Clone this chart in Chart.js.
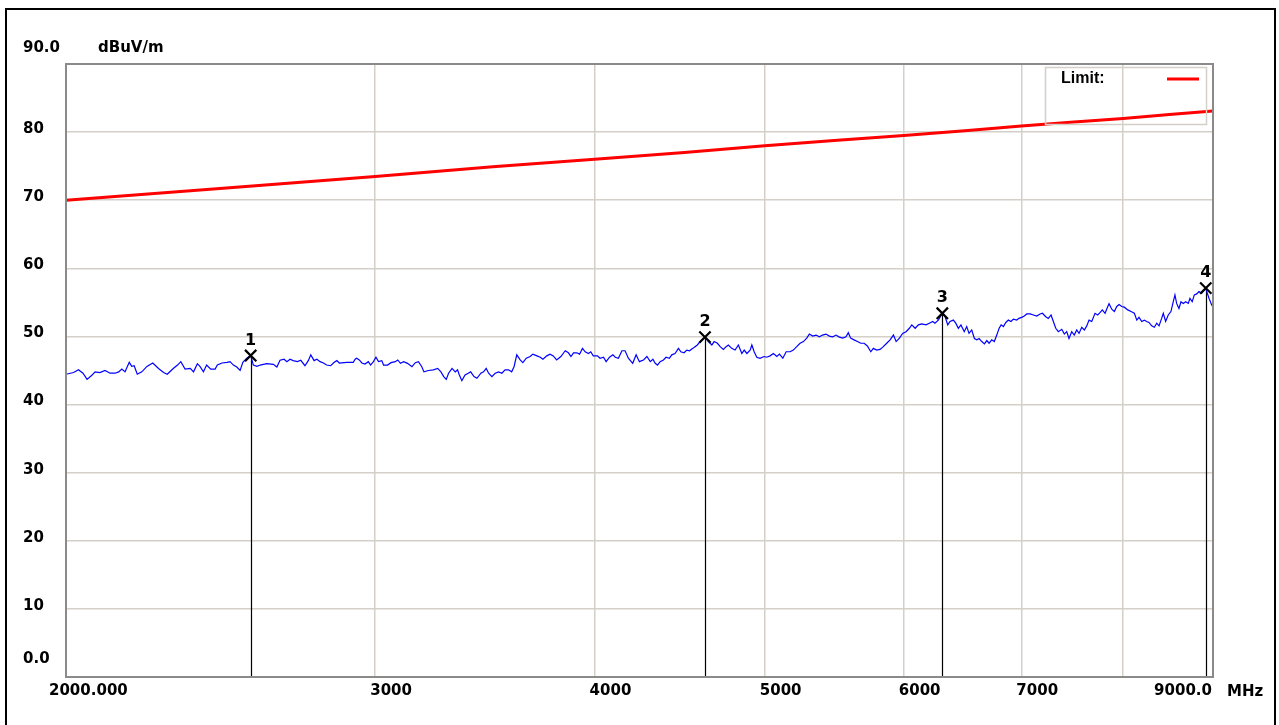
<!DOCTYPE html>
<html>
<head>
<meta charset="utf-8">
<script src="https://cdn.jsdelivr.net/npm/chart.js@4.4.0/dist/chart.umd.min.js"></script>
<style>
  html, body { margin: 0; padding: 0; background: #fff; }
  canvas { display: block; }
</style>
</head>
<body>
<canvas id="myChart" width="1279" height="725"></canvas>
<script>
// axis ticks
var xTicks = [2000, 3000, 4000, 5000, 6000, 7000, 8000, 9000];
var xTickLabels = ['2000.000', '3000', '4000', '5000', '6000', '7000', '', '9000.0'];
var yTicks = [0, 10, 20, 30, 40, 50, 60, 70, 80, 90];
var yTickLabels = ['0.0', '10', '20', '30', '40', '50', '60', '70', '80', '90.0'];

// limit line (MHz, dBuV/m)
var limitFreq = [2000, 2500, 3000, 3500, 4000, 4500, 5000, 5500, 6000, 6500, 7000, 7500, 8000, 8500, 9000];
var limitLevel = [70.0, 71.9, 73.5, 74.9, 76.0, 77.0, 78.0, 78.8, 79.5, 80.2, 80.9, 81.5, 82.0, 82.6, 83.1];

// measured trace (MHz)
var traceFreq = [
  2000, 2020, 2033, 2045, 2056, 2069, 2078, 2091, 2105, 2119, 2133, 2143, 2152, 2161, 2173, 2180, 2187, 2196,
  2209, 2224, 2241, 2258, 2273, 2284, 2302, 2315, 2325, 2338, 2354, 2364, 2376, 2384, 2395, 2405, 2418, 2432,
  2439, 2454, 2470, 2480, 2491, 2502, 2513, 2522, 2535, 2548, 2557, 2569, 2580, 2602, 2625, 2637, 2648, 2662,
  2672, 2683, 2694, 2709, 2721, 2736, 2748, 2757, 2769, 2779, 2791, 2803, 2815, 2830, 2843, 2853, 2862, 2890,
  2915, 2922, 2928, 2938, 2948, 2960, 2973, 2982, 2993, 3003, 3013, 3026, 3033, 3049, 3063, 3080, 3090, 3101,
  3114, 3130, 3148, 3162, 3175, 3189, 3198, 3217, 3238, 3256, 3270, 3282, 3293, 3303, 3318, 3332, 3342, 3350,
  3361, 3375, 3389, 3400, 3415, 3428, 3446, 3458, 3470, 3481, 3496, 3511, 3527, 3542, 3557, 3573, 3588, 3599,
  3612, 3628, 3641, 3657, 3676, 3689, 3709, 3725, 3738, 3757, 3773, 3789, 3806, 3827, 3849, 3865, 3878, 3891,
  3908, 3922, 3937, 3951, 3968, 3980, 3993, 4015, 4029, 4047, 4061, 4079, 4097, 4110, 4127, 4146, 4163, 4181,
  4205, 4224, 4242, 4265, 4284, 4303, 4318, 4331, 4344, 4359, 4378, 4393, 4412, 4426, 4445, 4465, 4479, 4498,
  4514, 4530, 4550, 4563, 4577, 4593, 4609, 4623, 4644, 4665, 4679, 4699, 4716, 4736, 4753, 4767, 4788, 4809,
  4830, 4852, 4867, 4884, 4905, 4916, 4931, 4948, 4969, 4995, 5013, 5035, 5057, 5080, 5097, 5120, 5142, 5169,
  5191, 5214, 5237, 5260, 5283, 5301, 5325, 5348, 5371, 5394, 5418, 5442, 5466, 5490, 5514, 5539, 5562, 5579,
  5596, 5621, 5646, 5671, 5696, 5720, 5746, 5765, 5790, 5816, 5841, 5867, 5893, 5919, 5940, 5966, 5991, 6018,
  6044, 6063, 6090, 6116, 6143, 6178, 6204, 6232, 6250, 6278, 6311, 6334, 6356, 6375, 6403, 6423, 6445, 6467,
  6495, 6516, 6536, 6559, 6582, 6603, 6623, 6646, 6669, 6690, 6710, 6733, 6756, 6778, 6799, 6817, 6837, 6859,
  6882, 6906, 6927, 6958, 6978, 7003, 7027, 7050, 7081, 7111, 7143, 7174, 7196, 7228, 7252, 7278, 7300, 7323,
  7348, 7381, 7406, 7429, 7451, 7478, 7503, 7527, 7550, 7577, 7603, 7627, 7650, 7677, 7710, 7737, 7760, 7784,
  7812, 7840, 7853, 7881, 7908, 7933, 7957, 7985, 8012, 8048, 8083, 8118, 8144, 8168, 8197, 8225, 8250, 8275,
  8305, 8333, 8360, 8385, 8414, 8432, 8458, 8487, 8517, 8543, 8562, 8581, 8607, 8630, 8656, 8683, 8713, 8732,
  8758, 8782, 8810, 8836, 8868, 8898, 8915, 8926, 8953, 8985, 9000
];
var traceLevel = [
  44.45, 44.7, 45.1, 44.6, 43.7, 44.3, 44.8, 44.7, 45.0, 44.6, 44.6, 44.8, 45.2, 44.8, 46.2, 45.6, 45.7, 44.45,
  44.8, 45.6, 46.1, 45.3, 44.7, 44.45, 45.3, 45.8, 46.3, 45.2, 45.3, 44.8, 46.0, 45.6, 44.8, 45.8, 45.2, 45.2,
  45.8, 46.1, 46.2, 46.3, 45.8, 45.5, 45.0, 46.2, 46.8, 47.2, 45.8, 45.6, 45.8, 46.0, 45.9, 45.5, 46.5, 46.65,
  46.3, 46.65, 46.45, 46.3, 46.5, 45.7, 46.45, 47.3, 46.45, 46.65, 46.3, 46.1, 45.8, 45.7, 46.2, 46.45, 46.1, 46.2,
  46.2, 46.65, 46.8, 46.55, 46.1, 45.95, 46.3, 45.8, 46.3, 46.95, 46.3, 46.45, 45.8, 45.8, 46.15, 46.3, 46.55, 46.05,
  46.3, 46.05, 45.55, 46.15, 46.3, 45.55, 44.8, 45.0, 45.1, 45.3, 44.8, 44.1, 43.7, 44.6, 45.3, 44.8, 45.1, 44.35,
  43.5, 44.35, 44.6, 44.8, 44.1, 43.85, 44.6, 44.8, 45.3, 44.6, 44.1, 44.6, 44.8, 44.6, 45.1, 45.1, 44.8, 45.55,
  47.3, 46.55, 46.15, 46.8, 47.05, 47.4, 47.15, 46.95, 46.65, 47.15, 47.4, 47.15, 46.55, 47.05, 47.9, 47.6, 47.05, 47.6,
  47.6, 47.4, 48.25, 47.75, 47.5, 47.75, 47.15, 47.15, 46.8, 46.95, 46.3, 46.95, 47.3, 46.95, 46.8, 47.9, 47.9, 46.8,
  46.05, 47.3, 46.3, 46.55, 47.05, 46.3, 46.65, 46.05, 45.8, 46.3, 46.55, 46.95, 46.8, 47.3, 47.5, 48.25, 47.75, 47.6,
  48.0, 47.9, 48.25, 48.5, 48.75, 49.25, 49.6, 49.9, 49.25, 48.75, 49.25, 49.0, 48.5, 48.1, 48.5, 48.75, 48.25, 48.0,
  48.75, 47.5, 48.0, 47.5, 48.0, 48.75, 47.75, 46.95, 46.8, 47.05, 46.95, 47.15, 47.5, 47.05, 47.4, 46.8, 47.75, 47.75,
  48.0, 48.5, 49.0, 49.25, 49.75, 50.35, 50.05, 50.2, 49.95, 50.2, 50.35, 50.05, 49.95, 50.2, 49.9, 49.75, 49.95, 50.55,
  49.75, 49.5, 49.25, 49.0, 49.0, 48.6, 47.75, 48.25, 48.0, 48.1, 48.5, 49.0, 49.5, 50.2, 49.25, 49.75, 50.45, 50.7,
  51.2, 51.7, 51.2, 51.7, 51.85, 51.7, 51.95, 52.2, 51.95, 52.4, 53.4, 52.9, 51.7, 52.2, 52.4, 51.95, 51.2, 51.7,
  50.7, 51.45, 50.45, 50.95, 49.7, 49.5, 49.7, 49.25, 48.9, 49.4, 49.0, 49.5, 49.25, 50.2, 51.2, 51.7, 51.45, 52.05,
  52.4, 52.2, 52.55, 52.4, 52.65, 52.8, 53.0, 53.3, 53.3, 53.15, 53.0, 53.3, 53.4, 52.9, 52.65, 53.15, 52.2, 51.2,
  50.7, 51.05, 50.35, 50.7, 49.7, 50.7, 50.2, 50.95, 50.45, 51.35, 50.95, 51.55, 52.4, 52.2, 53.4, 53.15, 53.5, 53.9,
  53.4, 54.4, 54.8, 54.0, 53.65, 54.4, 54.7, 54.4, 54.3, 53.9, 53.65, 53.4, 52.4, 52.8, 52.2, 52.4, 52.2, 52.05,
  51.55, 51.35, 51.95, 51.55, 52.65, 53.4, 52.2, 53.15, 53.65, 55.1, 56.1, 54.85, 54.1, 55.1, 54.85, 55.1, 54.85, 55.6,
  55.1, 56.1, 56.25, 56.6, 56.35, 56.8, 57.1, 56.6, 55.6, 54.6, 54.85
];

// peak markers
var markerFreq = [2548, 4623, 6311, 8915];
var markerLevel = [47.2, 49.9, 53.4, 57.1];
var markerLabels = ['1', '2', '3', '4'];

var boldFont = 'bold 15px "DejaVu Sans"';

var framePlugin = {
  id: 'frame',
  beforeDraw: function (chart) {
    var c = chart.ctx;
    c.save();
    c.fillStyle = '#ffffff';
    c.fillRect(0, 0, chart.width, chart.height);
    c.restore();
  },
  beforeDatasetsDraw: function (chart) {
    var c = chart.ctx, x = chart.scales.x, y = chart.scales.y;
    c.save();
    c.strokeStyle = '#000000';
    c.lineWidth = 1.2;
    for (var i = 0; i < markerFreq.length; i++) {
      var px = Math.round(x.getPixelForValue(markerFreq[i])) + 0.5;
      var py = y.getPixelForValue(markerLevel[i]);
      c.beginPath();
      c.moveTo(px, py);
      c.lineTo(px, chart.chartArea.bottom);
      c.stroke();
    }
    c.restore();
  },
  afterDraw: function (chart) {
    var c = chart.ctx, x = chart.scales.x, y = chart.scales.y, a = chart.chartArea;
    c.save();
    // plot border
    c.strokeStyle = '#8a8a8a';
    c.lineWidth = 2;
    c.strokeRect(a.left, a.top, a.right - a.left, a.bottom - a.top);
    // outer frame
    c.strokeStyle = '#000000';
    c.lineWidth = 2;
    c.strokeRect(6, 9, 1269, 730);

    c.fillStyle = '#000000';
    c.font = boldFont;
    c.textBaseline = 'middle';
    // y labels
    c.textAlign = 'left';
    for (var i = 0; i < yTicks.length; i++) {
      var py = y.getPixelForValue(yTicks[i]);
      var off = -3;
      if (i === 0) off = -18;
      if (i === yTicks.length - 1) off = -16;
      c.fillText(yTickLabels[i], 23, py + off);
    }
    c.fillText('dBuV/m', 98, 48);
    // x labels
    for (var j = 0; j < xTicks.length; j++) {
      var px = x.getPixelForValue(xTicks[j]);
      if (j === 0) {
        c.textAlign = 'left';
        c.fillText(xTickLabels[j], px - 17, 691);
      } else if (j === xTicks.length - 1) {
        c.textAlign = 'right';
        c.fillText(xTickLabels[j], px - 1, 691);
      } else {
        c.textAlign = 'left';
        c.fillText(xTickLabels[j], px - 5, 691);
      }
    }
    c.textAlign = 'left';
    c.fillText('MHz', 1227, 692);

    // marker numbers
    c.textAlign = 'center';
    c.font = 'bold 16px "DejaVu Sans"';
    for (var k = 0; k < markerFreq.length; k++) {
      var mx = x.getPixelForValue(markerFreq[k]);
      var my = y.getPixelForValue(markerLevel[k]);
      c.fillText(markerLabels[k], mx, my - 15);
    }

    // legend
    c.strokeStyle = '#d4d0c8';
    c.lineWidth = 1.5;
    c.strokeRect(1045.5, 67.5, 161, 57);
    c.font = 'bold 16px "Liberation Sans"';
    c.textAlign = 'left';
    c.fillText('Limit:', 1061, 79);
    c.strokeStyle = '#ff0000';
    c.lineWidth = 3;
    c.beginPath();
    c.moveTo(1167, 79);
    c.lineTo(1199, 79);
    c.stroke();
    c.restore();
  }
};

var ctx = document.getElementById('myChart').getContext('2d');
var chart = new Chart(ctx, {
  type: 'line',
  data: {
    datasets: [{
      label: 'Markers',
      data: markerFreq.map(function (f, i) { return { x: f, y: markerLevel[i] }; }),
      showLine: false,
      pointStyle: 'crossRot',
      pointRadius: 8,
      pointBorderWidth: 2.2,
      borderColor: '#000000',
      backgroundColor: '#000000',
      order: 0
    }, {
      label: 'Trace',
      data: traceFreq.map(function (f, i) { return { x: f, y: traceLevel[i] }; }),
      borderColor: '#0000ff',
      borderWidth: 1.2,
      pointRadius: 0,
      tension: 0,
      order: 1
    }, {
      label: 'Limit',
      data: limitFreq.map(function (f, i) { return { x: f, y: limitLevel[i] }; }),
      borderColor: '#ff0000',
      borderWidth: 3,
      pointRadius: 0,
      tension: 0,
      order: 2
    }]
  },
  options: {
    responsive: false,
    animation: false,
    devicePixelRatio: 1,
    layout: { padding: { left: 66, top: 64, right: 66, bottom: 48 } },
    plugins: { legend: { display: false }, tooltip: { enabled: false } },
    scales: {
      x: {
        type: 'logarithmic',
        min: 2000,
        max: 9000,
        afterBuildTicks: function (s) { s.ticks = xTicks.map(function (v) { return { value: v }; }); },
        afterFit: function (s) { s.height = 0; },
        ticks: { display: false },
        grid: { color: '#d4d0c8', lineWidth: 1.5, drawTicks: false },
        border: { display: false }
      },
      y: {
        type: 'linear',
        min: 0,
        max: 90,
        afterBuildTicks: function (s) { s.ticks = yTicks.map(function (v) { return { value: v }; }); },
        afterFit: function (s) { s.width = 0; },
        ticks: { display: false },
        grid: { color: '#d4d0c8', lineWidth: 1.5, drawTicks: false },
        border: { display: false }
      }
    }
  },
  plugins: [framePlugin]
});
</script>
</body>
</html>
